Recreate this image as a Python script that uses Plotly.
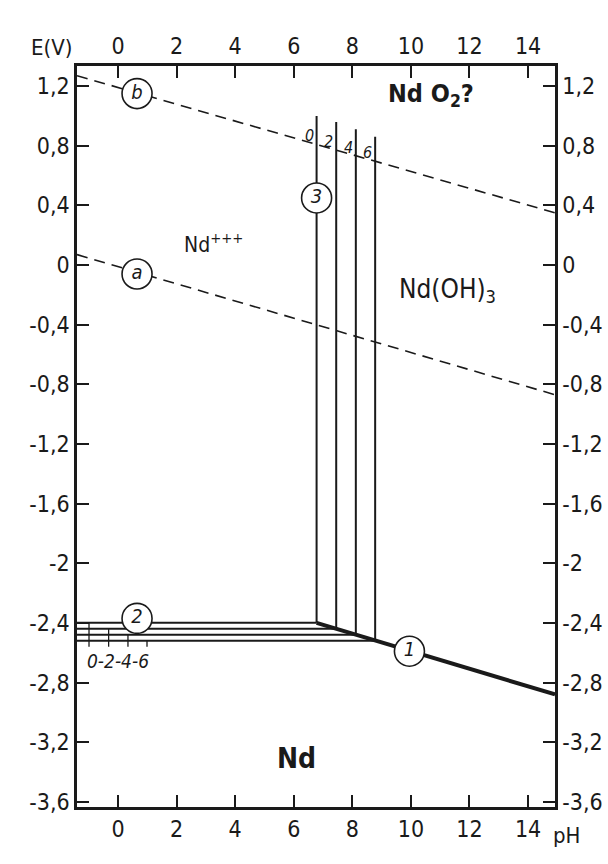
import plotly.graph_objects as go

# Axis ticks
ph_ticks = [0, 2, 4, 6, 8, 10, 12, 14]
e_ticks = [1.2, 0.8, 0.4, 0.0, -0.4, -0.8, -1.2, -1.6, -2.0, -2.4, -2.8, -3.2, -3.6]
e_tick_text = ["1,2", "0,8", "0,4", "0", "-0,4", "-0,8", "-1,2", "-1,6", "-2",
               "-2,4", "-2,8", "-3,2", "-3,6"]

ph_range = [-1.4, 14.92]
e_range = [-3.635, 1.335]

# Water stability lines (a: H2/H+, b: O2/H2O), end points
line_a_ph = [-1.4, 14.92]
line_a_e = [0.07, -0.87]
line_b_ph = [-1.4, 14.92]
line_b_e = [1.27, 0.35]

# Line 1: Nd / Nd(OH)3
line1_ph = [6.78, 14.92]
line1_e = [-2.40, -2.88]

# Line 2: Nd / Nd+++ for log[Nd+++] = 0, -2, -4, -6
log_conc = ["0", "2", "4", "6"]
line2_e = [-2.40, -2.44, -2.48, -2.52]

# Line 3: Nd+++ / Nd(OH)3 for the same concentrations
line3_ph = [6.78, 7.45, 8.12, 8.78]
line3_top = [1.00, 0.96, 0.91, 0.86]

# Concentration markers on line 2
conc_mark_ph = [-0.99, -0.32, 0.34, 0.99]
conc_mark_bottom = -2.56

# Numbered line tags
tag_text = ["b", "a", "3", "2", "1"]
tag_ph = [0.65, 0.65, 6.78, 0.65, 9.95]
tag_e = [1.15, -0.06, 0.45, -2.37, -2.59]

# Domain names
region_text = ["<b>Nd O<sub>2</sub>?</b>", "Nd<sup>+++</sup>", "Nd(OH)<sub>3</sub>", "<b>Nd</b>"]
region_ph = [10.7, 3.25, 11.25, 6.1]
region_e = [1.14, 0.15, -0.17, -3.31]
region_size = [25, 21, 26, 28]

FONT = "DejaVu Sans Condensed"
INK = "#1a1a1a"

fig = go.Figure()

dash = "11px,7px"
for xs, ys in [(line_a_ph, line_a_e), (line_b_ph, line_b_e)]:
    fig.add_trace(go.Scatter(x=xs, y=ys, mode="lines",
                             line=dict(color=INK, width=1.6, dash=dash),
                             hoverinfo="skip", showlegend=False))

# Line 2 horizontals, each running to the pH where it meets line 1
for e, ph_end in zip(line2_e, line3_ph):
    fig.add_trace(go.Scatter(x=[ph_range[0], ph_end], y=[e, e], mode="lines",
                             line=dict(color=INK, width=2),
                             hoverinfo="skip", showlegend=False))

# Line 3 verticals
for ph, e0, e1 in zip(line3_ph, line2_e, line3_top):
    fig.add_trace(go.Scatter(x=[ph, ph], y=[e0, e1], mode="lines",
                             line=dict(color=INK, width=2),
                             hoverinfo="skip", showlegend=False))

# Line 1 (thick)
fig.add_trace(go.Scatter(x=line1_ph, y=line1_e, mode="lines",
                         line=dict(color=INK, width=4),
                         hoverinfo="skip", showlegend=False))

# Small drop marks identifying each line 2 branch
for ph, e in zip(conc_mark_ph, line2_e):
    fig.add_trace(go.Scatter(x=[ph, ph], y=[e, conc_mark_bottom], mode="lines",
                             line=dict(color=INK, width=1.3),
                             hoverinfo="skip", showlegend=False))

# Concentration labels at the line 3 verticals
for ph, lab in zip(line3_ph, log_conc):
    t = (ph - line_b_ph[0]) / (line_b_ph[1] - line_b_ph[0])
    eb = line_b_e[0] + t * (line_b_e[1] - line_b_e[0])
    fig.add_annotation(x=ph, y=eb, text="<i>" + lab + "</i>", showarrow=False,
                       xanchor="right", yanchor="bottom", xshift=-1, yshift=-3,
                       font=dict(family=FONT, size=16, color=INK))

# Concentration labels below line 2
fig.add_annotation(x=sum(conc_mark_ph) / 4, y=conc_mark_bottom,
                   text="<i>0-2-4-6</i>", showarrow=False,
                   yanchor="top", yshift=-1,
                   font=dict(family=FONT, size=19, color=INK))

# Circled tags
fig.add_trace(go.Scatter(x=tag_ph, y=tag_e, mode="markers+text",
                         text=["<i>" + t + "</i>" for t in tag_text],
                         textposition="middle center",
                         textfont=dict(family=FONT, size=20, color=INK),
                         marker=dict(symbol="circle", size=30, color="white",
                                     line=dict(color=INK, width=1.6)),
                         hoverinfo="skip", showlegend=False))

# Domain names
for txt, x, y, s in zip(region_text, region_ph, region_e, region_size):
    fig.add_annotation(x=x, y=y, text=txt, showarrow=False,
                       font=dict(family=FONT, size=s, color=INK))

# Mirror axes need a trace to show
fig.add_trace(go.Scatter(x=ph_range, y=e_range, xaxis="x2", yaxis="y2",
                         mode="markers", marker=dict(opacity=0),
                         hoverinfo="skip", showlegend=False))

axis_common = dict(showgrid=False, zeroline=False, showline=True, automargin=False,
                   linecolor=INK, linewidth=2.5, ticks="inside",
                   ticklen=12, tickwidth=2, tickcolor=INK,
                   tickfont=dict(family=FONT, size=23, color=INK))

fig.update_layout(
    width=608, height=864,
    margin=dict(l=77, r=53, t=66, b=57),
    paper_bgcolor="white", plot_bgcolor="white",
    xaxis=dict(range=ph_range, tickvals=ph_ticks, ticktext=[str(v) for v in ph_ticks],
               side="bottom", **axis_common),
    xaxis2=dict(range=ph_range, tickvals=ph_ticks, ticktext=[str(v) for v in ph_ticks],
                overlaying="x", side="top", anchor="y", **axis_common),
    yaxis=dict(range=e_range, tickvals=e_ticks, ticktext=e_tick_text,
               side="left", **axis_common),
    yaxis2=dict(range=e_range, tickvals=e_ticks, ticktext=e_tick_text,
                overlaying="y", side="right", anchor="x", **axis_common),
)

fig.add_annotation(x=0, y=1, xref="paper", yref="paper", text="E(V)",
                   showarrow=False, xanchor="right", yanchor="bottom",
                   xshift=-2, yshift=4,
                   font=dict(family=FONT, size=22, color=INK))
fig.add_annotation(x=1, y=0, xref="paper", yref="paper", text="pH",
                   showarrow=False, xanchor="left", yanchor="top",
                   xshift=-4, yshift=-14,
                   font=dict(family=FONT, size=22, color=INK))

fig.write_html("out.html")
